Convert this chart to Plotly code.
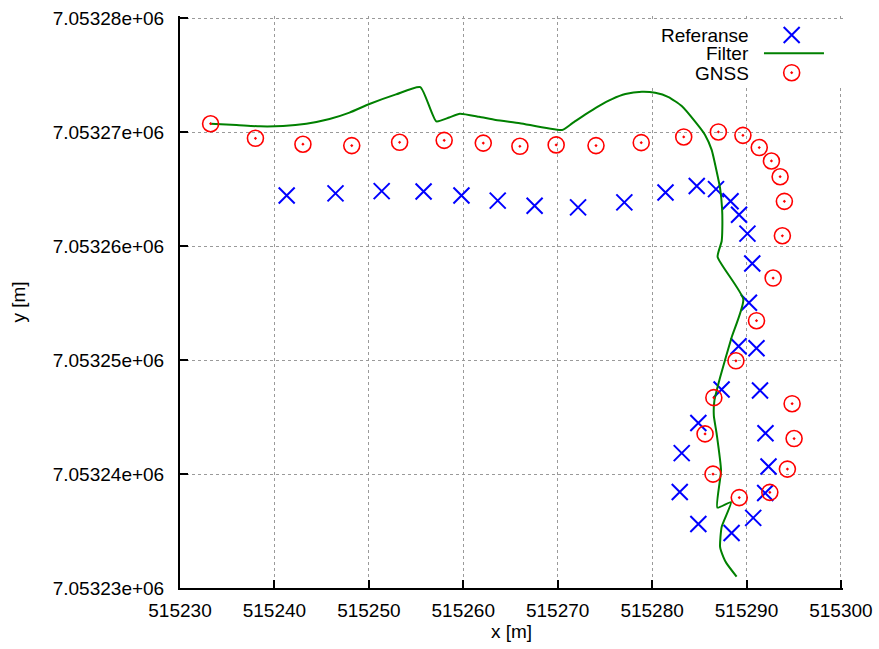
import plotly.graph_objects as go

# Reference track (surveyed positions)
ref_x = [515241.30, 515246.47, 515251.36, 515255.80, 515259.81, 515263.65, 515267.56,
         515272.16, 515277.06, 515281.42, 515284.73, 515286.77, 515288.31, 515289.21,
         515290.10, 515290.61, 515290.26, 515289.16, 515291.06, 515287.36, 515291.43,
         515284.90, 515292.01, 515283.14, 515292.33, 515282.93, 515291.98, 515290.71,
         515284.90, 515288.42]
ref_y = [7053264.44, 7053264.62, 7053264.82, 7053264.79, 7053264.44, 7053263.98, 7053263.54,
         7053263.39, 7053263.83, 7053264.69, 7053265.27, 7053264.99, 7053263.93, 7053262.74,
         7053261.09, 7053258.47, 7053255.03, 7053251.21, 7053251.04, 7053247.42, 7053247.33,
         7053244.48, 7053243.58, 7053241.83, 7053240.66, 7053238.42, 7053238.33, 7053236.15,
         7053235.62, 7053234.83]

# Filtered estimate
filt_x = [515233.24, 515235.99, 515238.45, 515240.91, 515243.38, 515245.84, 515247.95,
          515250.06, 515252.88, 515255.45, 515257.14, 515258.51, 515259.64, 515261.68,
          515263.44, 515266.00, 515270.47, 515271.53, 515272.94, 515274.35, 515275.75,
          515277.17, 515278.92, 515280.33, 515281.74, 515283.14, 515284.56, 515285.61,
          515286.31, 515286.84, 515287.20, 515287.41, 515287.44, 515287.37, 515286.94,
          515289.66, 515288.42, 515287.20, 515286.60, 515286.54, 515286.84, 515287.30,
          515286.91, 515288.36, 515287.37, 515287.20, 515287.54, 515287.89, 515288.95]
filt_y = [7053270.73, 7053270.62, 7053270.50, 7053270.53, 7053270.73, 7053271.14, 7053271.70,
          7053272.46, 7053273.30, 7053273.94, 7053270.94, 7053271.28, 7053271.61, 7053271.34,
          7053271.06, 7053270.78, 7053270.18, 7053270.76, 7053271.55, 7053272.28, 7053272.89,
          7053273.33, 7053273.53, 7053273.44, 7053273.07, 7053272.28, 7053270.91, 7053269.75,
          7053268.44, 7053266.54, 7053265.08, 7053263.33, 7053261.58, 7053260.42, 7053259.05,
          7053255.32, 7053251.97, 7053248.47, 7053246.43, 7053245.12, 7053243.52, 7053240.31,
          7053237.05, 7053237.54, 7053235.36, 7053233.61, 7053232.74, 7053232.16, 7053230.99]

# Raw GNSS fixes
gnss_x = [515233.24, 515237.99, 515243.02, 515248.19, 515253.26, 515257.98, 515262.12,
          515266.00, 515269.84, 515274.06, 515278.85, 515283.35, 515287.02, 515289.62,
          515291.35, 515292.64, 515293.56, 515294.01, 515293.80, 515292.82, 515291.06,
          515288.88, 515286.54, 515285.61, 515286.45, 515289.23, 515292.47, 515294.33,
          515295.04, 515294.83]
gnss_y = [7053270.73, 7053269.45, 7053268.93, 7053268.81, 7053269.10, 7053269.27, 7053269.03,
          7053268.75, 7053268.87, 7053268.81, 7053269.07, 7053269.57, 7053270.01, 7053269.71,
          7053268.64, 7053267.46, 7053266.08, 7053263.92, 7053260.90, 7053257.19, 7053253.45,
          7053249.93, 7053246.70, 7053243.52, 7053239.99, 7053237.93, 7053238.39, 7053240.43,
          7053243.11, 7053246.17]

x_ticks = [515230, 515240, 515250, 515260, 515270, 515280, 515290, 515300]
x_tick_text = ["515230", "515240", "515250", "515260", "515270", "515280", "515290", "515300"]
y_ticks = [7053230, 7053240, 7053250, 7053260, 7053270, 7053280]
y_tick_text = ["7.05323e+06", "7.05324e+06", "7.05325e+06", "7.05326e+06",
               "7.05327e+06", "7.05328e+06"]

labels = ["Referanse", "Filter", "GNSS"]

FONT = "Liberation Sans, Arial, Helvetica, sans-serif"
BLUE = "#0000ff"
GREEN = "#008000"
RED = "#ff0000"

fig = go.Figure()

fig.add_trace(go.Scatter(x=ref_x, y=ref_y, mode="markers", name=labels[0],
                         marker=dict(symbol="x-thin-open", size=16, color=BLUE,
                                     line=dict(color=BLUE, width=2)),
                         showlegend=False))
fig.add_trace(go.Scatter(x=filt_x, y=filt_y, mode="lines", name=labels[1],
                         line=dict(color=GREEN, width=2, shape="spline", smoothing=0.5),
                         showlegend=False))
fig.add_trace(go.Scatter(x=gnss_x, y=gnss_y, mode="markers", name=labels[2],
                         marker=dict(symbol="circle-open-dot", size=16, color=RED,
                                     line=dict(color=RED, width=1.6)),
                         showlegend=False))

# Key, drawn on an overlay axis spanning the plot area in [0, 1]
key_box_x = [0.709, 1.0, 1.0, 0.709, 0.709]
key_box_y = [0.879, 0.879, 0.9895, 0.9895, 0.879]
key_y = [0.9668, 0.9348, 0.9009]
key_sample_x = 0.9226
key_line_x = [0.8808, 0.9713]

# opaque background so the grid does not run through the key
fig.add_trace(go.Scatter(x=key_box_x, y=key_box_y, mode="lines", fill="toself",
                         fillcolor="white", line=dict(width=0, color="white"),
                         xaxis="x2", yaxis="y2", showlegend=False, hoverinfo="skip"))
fig.add_trace(go.Scatter(x=[key_sample_x], y=[key_y[0]], mode="markers",
                         marker=dict(symbol="x-thin-open", size=16, color=BLUE,
                                     line=dict(color=BLUE, width=2)),
                         xaxis="x2", yaxis="y2", showlegend=False, hoverinfo="skip"))
fig.add_trace(go.Scatter(x=key_line_x, y=[key_y[1], key_y[1]], mode="lines",
                         line=dict(color=GREEN, width=2),
                         xaxis="x2", yaxis="y2", showlegend=False, hoverinfo="skip"))
fig.add_trace(go.Scatter(x=[key_sample_x], y=[key_y[2]], mode="markers",
                         marker=dict(symbol="circle-open-dot", size=16, color=RED,
                                     line=dict(color=RED, width=1.6)),
                         xaxis="x2", yaxis="y2", showlegend=False, hoverinfo="skip"))

for lab, ky in zip(labels, key_y):
    fig.add_annotation(text=lab, x=0.8612, y=ky, xref="paper", yref="paper",
                       xanchor="right", yanchor="middle", showarrow=False,
                       height=18, font=dict(family=FONT, size=19, color="black"))

axis_common = dict(
    showline=True, linecolor="black", linewidth=2, mirror=False,
    ticks="inside", ticklen=8, tickwidth=2, tickcolor="black",
    showgrid=True, gridcolor="#9a9a9a", gridwidth=1, griddash="dot",
    zeroline=False, automargin=False,
    tickfont=dict(family=FONT, size=19, color="black"),
)

fig.update_layout(
    width=879, height=649,
    margin=dict(l=180, r=36, t=16, b=61, autoexpand=False),
    paper_bgcolor="white", plot_bgcolor="white",
    font=dict(family=FONT, size=19, color="black"),
    xaxis=dict(range=[515230, 515300.22], tickmode="array", tickvals=x_ticks,
               ticktext=x_tick_text, ticklabelstandoff=4,
               title=dict(text="x [m]", font=dict(family=FONT, size=19), standoff=4),
               **axis_common),
    yaxis=dict(range=[7053230, 7053280.18], tickmode="array", tickvals=y_ticks,
               ticktext=y_tick_text, ticklabelstandoff=10,
               title=dict(text="y [m]", font=dict(family=FONT, size=19), standoff=22),
               **axis_common),
    xaxis2=dict(range=[0, 1], overlaying="x", visible=False, fixedrange=True),
    yaxis2=dict(range=[0, 1], overlaying="y", visible=False, fixedrange=True),
)

fig.write_html("out.html")
